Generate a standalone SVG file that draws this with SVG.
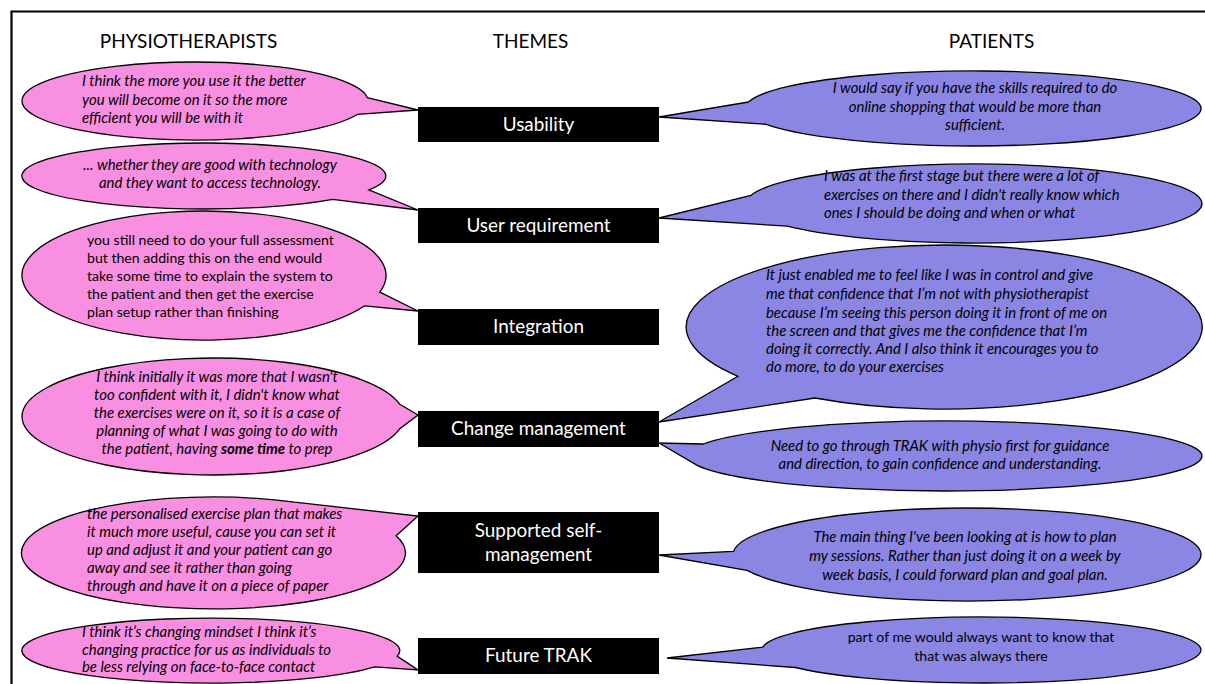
<svg xmlns="http://www.w3.org/2000/svg" width="1205" height="684" viewBox="0 0 1205 684">
  <style>
    .frame { fill: none; stroke: #000; stroke-width: 2.2; }
    .hdr { font-family: Lato, "Liberation Sans", sans-serif; font-size: 19px; fill: #000; text-anchor: middle; }
    .box { fill: #000; }
    .theme { font-family: Lato, "Liberation Sans", sans-serif; font-size: 18.9px; fill: #fff; text-anchor: middle; }
    .pink { fill: #F98FE1; stroke: #000; stroke-width: 1.3; stroke-linejoin: miter; }
    .blue { fill: #8B86E4; stroke: #000; stroke-width: 1.3; stroke-linejoin: miter; }
    .q { font-family: Lato, "Liberation Sans", sans-serif; font-size: 14.9px; font-style: italic; fill: #000; }
    .n { font-family: Lato, "Liberation Sans", sans-serif; font-size: 14.1px; fill: #000; }
    .mid { text-anchor: middle; }
  </style>

  <!-- outer frame: top and left rules -->
  <path class="frame" d="M11.5,684 V11.5 H1205"/>

  <!-- column headings -->
  <g id="headings">
    <text class="hdr" x="188.5" y="48">PHYSIOTHERAPISTS</text>
    <text class="hdr" x="530.5" y="48">THEMES</text>
    <text class="hdr" x="991.5" y="48">PATIENTS</text>
  </g>

  <!-- physiotherapist quotes (tails point at theme boxes) -->
  <g id="physio-usability">
    <path class="pink" d="M367.3,97.6 L418,110 L357.6,114.3 A173,39 0 1 1 367.3,97.6 Z"/>
    <text class="q" x="82" y="86">I think the more you use it the better</text>
    <text class="q" x="82" y="105">you will become on it so the more</text>
    <text class="q" x="82" y="123">efficient you will be with it</text>
  </g>
  <g id="physio-user-requirement">
    <path class="pink" d="M368.9,189.9 L418,210 L332.7,199.3 A182,33 0 1 1 368.9,189.9 Z"/>
    <text class="q mid" x="210" y="170">... whether they are good with technology</text>
    <text class="q mid" x="210" y="188">and they want to access technology.</text>
  </g>
  <g id="physio-integration">
    <path class="pink" d="M379.8,292.2 L418,311 L364.7,305.8 A182,64.5 0 1 1 379.8,292.2 Z"/>
    <text class="n" x="87" y="245">you still need to do your full assessment</text>
    <text class="n" x="87" y="263">but then adding this on the end would</text>
    <text class="n" x="87" y="281">take some time to explain the system to</text>
    <text class="n" x="87" y="299">the patient and then get the exercise</text>
    <text class="n" x="87" y="317">plan setup rather than finishing</text>
  </g>
  <g id="physio-change-management">
    <path class="pink" d="M399.8,404.3 L418,415 L399.8,428.7 A191,58.5 0 1 1 399.8,404.3 Z"/>
    <text class="q mid" x="217" y="382">I think initially it was more that I wasn't</text>
    <text class="q mid" x="217" y="400">too confident with it, I didn't know what</text>
    <text class="q mid" x="217" y="418">the exercises were on it, so it is a case of</text>
    <text class="q mid" x="217" y="436">planning of what I was going to do with</text>
    <text class="q mid" x="217" y="454">the patient, having <tspan font-weight="bold">some time</tspan> to prep</text>
  </g>
  <g id="physio-self-management">
    <path class="pink" d="M294.6,502.2 L418,516 L396.1,535.7 A192,56 0 1 1 294.6,502.2 Z"/>
    <text class="q" x="87" y="519">the personalised exercise plan that makes</text>
    <text class="q" x="87" y="537">it much more useful, cause you can set it</text>
    <text class="q" x="87" y="555">up and adjust it and your patient can go</text>
    <text class="q" x="87" y="573">away and see it rather than going</text>
    <text class="q" x="87" y="591">through and have it on a piece of paper</text>
  </g>
  <g id="physio-future-trak">
    <path class="pink" d="M397.1,656.1 L418,670 L374.7,666.8 A189,32.5 0 1 1 397.1,656.1 Z"/>
    <text class="q" x="82" y="637">I think it’s changing mindset I think it’s</text>
    <text class="q" x="82" y="655">changing practice for us as individuals to</text>
    <text class="q" x="82" y="672">be less relying on face-to-face contact</text>
  </g>

  <!-- patient quotes -->
  <g id="patient-usability">
    <path class="blue" d="M748.5,102 L659,117 L766.4,124.3 A228,37.5 0 1 0 748.5,102 Z"/>
    <text class="q mid" x="975" y="93">I would say if you have the skills required to do</text>
    <text class="q mid" x="975" y="112">online shopping that would be more than</text>
    <text class="q mid" x="975" y="130">sufficient.</text>
  </g>
  <g id="patient-user-requirement">
    <path class="blue" d="M751,195.3 L659,218 L787.2,226.2 A228,39.5 0 1 0 751,195.3 Z"/>
    <text class="q" x="824" y="181">I was at the first stage but there were a lot of</text>
    <text class="q" x="824" y="200">exercises on there and I didn't really know which</text>
    <text class="q" x="824" y="218">ones I should be doing and when or what</text>
  </g>
  <g id="patient-change-management-1">
    <path class="blue" d="M738,376.3 L659,422 L815,398 A258,82 0 1 0 738,376.3 Z"/>
    <text class="q" x="766" y="280">It just enabled me to feel like I was in control and give</text>
    <text class="q" x="766" y="299">me that confidence that I’m not with physiotherapist</text>
    <text class="q" x="766" y="318">because I’m seeing this person doing it in front of me on</text>
    <text class="q" x="766" y="336">the screen and that gives me the confidence that I’m</text>
    <text class="q" x="766" y="354">doing it correctly. And I also think it encourages you to</text>
    <text class="q" x="766" y="372">do more, to do your exercises</text>
  </g>
  <g id="patient-change-management-2">
    <path class="blue" d="M703.5,444 L659,443 L696.8,465.1 A257,35 0 1 0 703.5,444 Z"/>
    <text class="q mid" x="940" y="451">Need to go through TRAK with physio first for guidance</text>
    <text class="q mid" x="940" y="469">and direction, to gain confidence and understanding.</text>
  </g>
  <g id="patient-self-management">
    <path class="blue" d="M733.6,551.3 L659,555 L747.1,570.4 A234,46.5 0 1 0 733.6,551.3 Z"/>
    <text class="q mid" x="965" y="542">The main thing I've been looking at is how to plan</text>
    <text class="q mid" x="965" y="561">my sessions. Rather than just doing it on a week by</text>
    <text class="q mid" x="965" y="580">week basis, I could forward plan and goal plan.</text>
  </g>
  <g id="patient-future-trak">
    <path class="blue" d="M762.8,647.1 L667,658 L795.4,667.5 A219.5,33 0 1 0 762.8,647.1 Z"/>
    <text class="n mid" x="981" y="642">part of me would always want to know that</text>
    <text class="n mid" x="981" y="661">that was always there</text>
  </g>

  <!-- theme boxes -->
  <g id="theme-usability">
    <rect class="box" x="418" y="107" width="241" height="35"/>
    <text class="theme" x="538.5" y="131">Usability</text>
  </g>
  <g id="theme-user-requirement">
    <rect class="box" x="418" y="208" width="241" height="35"/>
    <text class="theme" x="538.5" y="232">User requirement</text>
  </g>
  <g id="theme-integration">
    <rect class="box" x="418" y="309" width="241" height="36"/>
    <text class="theme" x="538.5" y="333">Integration</text>
  </g>
  <g id="theme-change-management">
    <rect class="box" x="418" y="411" width="241" height="36"/>
    <text class="theme" x="538.5" y="435">Change management</text>
  </g>
  <g id="theme-supported-self-management">
    <rect class="box" x="418" y="512" width="241" height="61"/>
    <text class="theme" x="538.5" y="537">Supported self-</text>
    <text class="theme" x="538.5" y="561">management</text>
  </g>
  <g id="theme-future-trak">
    <rect class="box" x="418" y="638" width="241" height="36"/>
    <text class="theme" x="538.5" y="662">Future TRAK</text>
  </g>
</svg>
